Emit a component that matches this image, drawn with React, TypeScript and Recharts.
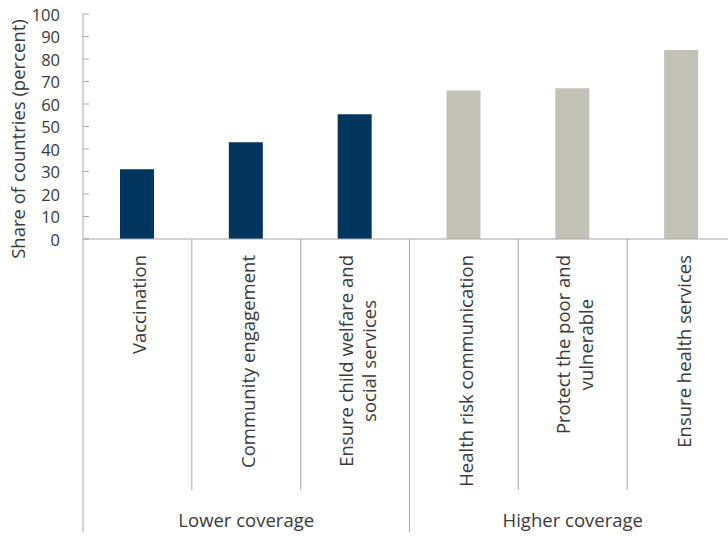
import { BarChart, Bar, Cell, XAxis, YAxis } from 'recharts'

const categories = [
  'Vaccination',
  'Community engagement',
  'Ensure child welfare and\nsocial services',
  'Health risk communication',
  'Protect the poor and\nvulnerable',
  'Ensure health services',
]
const shares = [31, 43, 55.5, 66, 67, 84]
const coverageGroups = ['Lower coverage', 'Higher coverage']
const categoryGroup = [0, 0, 0, 1, 1, 1]
const yTicks = [0, 10, 20, 30, 40, 50, 60, 70, 80, 90, 100]

const groupColors = ['#02365e', '#c2c1b5']
const AXIS = '#a8a8a8'
const TEXT = '#3a3a3a'
const FONT = "'Open Sans'"
const LABEL_SIZE = 18.5
const X_TICK_MARGIN = 16
const Y_TICK_MARGIN = 23

const data = categories.map((name, i) => ({
  name,
  share: shares[i],
  group: categoryGroup[i],
}))

let measureCtx: CanvasRenderingContext2D | null = null
function textWidth(s: string) {
  if (!measureCtx) {
    measureCtx = document.createElement('canvas').getContext('2d')
  }
  if (!measureCtx) return s.length * LABEL_SIZE * 0.5
  measureCtx.font = `${LABEL_SIZE}px ${FONT}`
  return measureCtx.measureText(s).width
}

function ValueTick(props: any) {
  const { x, y, payload } = props
  return (
    <g>
      <line x1={x + Y_TICK_MARGIN} x2={x + Y_TICK_MARGIN + 6} y1={y} y2={y} stroke={AXIS} />
      <text x={x} y={y} textAnchor="end" dominantBaseline="central" fontSize={16.5} fill={TEXT}>
        {payload.value}
      </text>
    </g>
  )
}

function CategoryTick(props: any) {
  const { x, y, payload, index, width, visibleTicksCount } = props
  const band = width / visibleTicksCount
  const axisY = y - X_TICK_MARGIN
  const g = categoryGroup[index]
  const members = categoryGroup.map((v, i) => (v === g ? i : -1)).filter(i => i >= 0)
  const isGroupEnd = members[members.length - 1] === index
  const isGroupMiddle = members[Math.floor(members.length / 2)] === index
  const lines = String(payload.value).split('\n')
  const longest = Math.max(...lines.map(textWidth))
  const cy = y + longest / 2

  return (
    <g>
      {index === 0 && (
        <line x1={x - band / 2} x2={x - band / 2} y1={axisY} y2={axisY + 293} stroke={AXIS} />
      )}
      <line
        x1={x + band / 2}
        x2={x + band / 2}
        y1={axisY}
        y2={axisY + (isGroupEnd ? 293 : 251)}
        stroke={AXIS}
      />
      {lines.map((line, i) => {
        const lx = x + 1.5 + (i - (lines.length - 1) / 2) * 23
        return (
          <text
            key={i}
            x={lx}
            y={cy}
            transform={`rotate(-90, ${lx}, ${cy})`}
            textAnchor="middle"
            dominantBaseline="central"
            fontSize={LABEL_SIZE}
            fill={TEXT}
          >
            {line}
          </text>
        )
      })}
      {isGroupMiddle && (
        <text x={x} y={axisY + 288} textAnchor="middle" fontSize={LABEL_SIZE} fill={TEXT}>
          {coverageGroups[g]}
        </text>
      )}
    </g>
  )
}

function YTitle(props: any) {
  const { viewBox } = props
  const x = viewBox.x + 17
  const y = viewBox.y + viewBox.height / 2 + 12.5
  return (
    <text
      x={x}
      y={y}
      transform={`rotate(-90, ${x}, ${y})`}
      textAnchor="middle"
      dominantBaseline="central"
      fontSize={LABEL_SIZE}
      fill={TEXT}
    >
      Share of countries (percent)
    </text>
  )
}

export default function App() {
  return (
    <div
      style={{
        position: 'absolute',
        left: 0,
        top: 0,
        width: 728,
        height: 536,
        overflow: 'hidden',
        background: '#fff',
        fontFamily: FONT,
      }}
    >
      <BarChart
        width={740}
        height={536}
        data={data}
        margin={{ top: 14, right: 4, bottom: 0, left: 0 }}
        barSize={34}
      >
        <YAxis
          type="number"
          domain={[0, 100]}
          ticks={yTicks}
          interval={0}
          width={83}
          axisLine={{ stroke: AXIS }}
          tickLine={false}
          tickSize={0}
          tickMargin={Y_TICK_MARGIN}
          tick={<ValueTick />}
          label={{ content: <YTitle /> }}
        />
        <XAxis
          dataKey="name"
          type="category"
          interval={0}
          height={297}
          axisLine={{ stroke: AXIS }}
          tickLine={false}
          tickSize={0}
          tickMargin={X_TICK_MARGIN}
          tick={<CategoryTick />}
        />
        <Bar dataKey="share" isAnimationActive={false}>
          {data.map((d, i) => (
            <Cell key={i} fill={groupColors[d.group]} />
          ))}
        </Bar>
      </BarChart>
    </div>
  )
}
